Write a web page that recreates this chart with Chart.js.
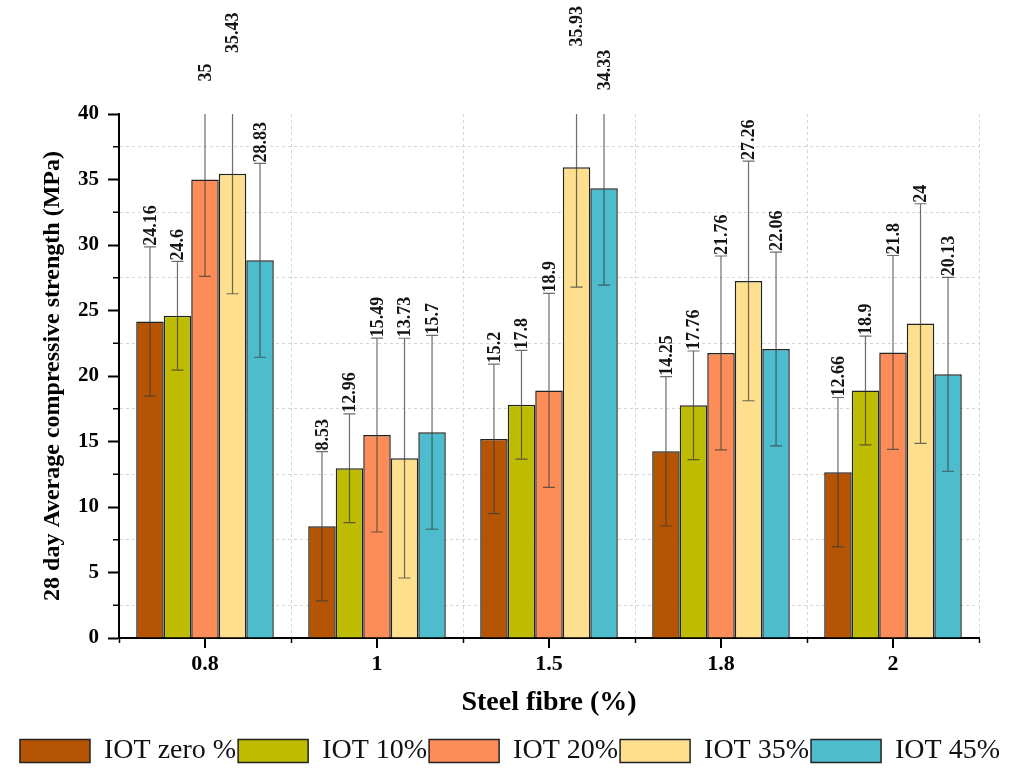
<!DOCTYPE html>
<html><head><meta charset="utf-8">
<script src="https://cdn.jsdelivr.net/npm/chart.js@4.4.1/dist/chart.umd.min.js"></script>
<style>html,body{margin:0;padding:0;background:#fff;} #wrap{width:1020px;height:768px;position:relative;}</style>
</head><body><div id="wrap"><canvas id="c"></canvas></div>
<script>
const categories = ['0.8', '1', '1.5', '1.8', '2'];
const seriesNames = ['IOT zero %', 'IOT 10%', 'IOT 20%', 'IOT 35%', 'IOT 45%'];
const iotZero = [24.16, 8.53, 15.2, 14.25, 12.66];
const iot10 = [24.6, 12.96, 17.8, 17.76, 18.9];
const iot20 = [35, 15.49, 18.9, 21.76, 21.8];
const iot35 = [35.43, 13.73, 35.93, 27.26, 24];
const iot45 = [28.83, 15.7, 34.33, 22.06, 20.13];
const errZero = [5.7, 5.7, 5.7, 5.7, 5.7];
const err10 = [4.15, 4.15, 4.15, 4.15, 4.15];
const err20 = [7.4, 7.4, 7.4, 7.4, 7.4];
const err35 = [9.15, 9.15, 9.15, 9.15, 9.15];
const err45 = [7.4, 7.4, 7.4, 7.4, 7.4];
const yMin = 0, yMax = 40, yStep = 2.5;
const seriesColors = ['#B55504', '#BDBC00', '#FC8D59', '#FDDF8E', '#4DBDCD'];

const values = [iotZero, iot10, iot20, iot35, iot45];
const errors = [errZero, err10, err20, err35, err45];

const SERIF = '"Liberation Serif", "Times New Roman", serif';

const extras = {
  id: 'extras',
  afterDatasetsDraw(chart) {
    const ctx = chart.ctx, ys = chart.scales.y, area = chart.chartArea;
    ctx.save();
    ctx.beginPath();
    ctx.rect(area.left, area.top, area.right - area.left, area.bottom - area.top);
    ctx.clip();
    ctx.strokeStyle = 'rgba(60,60,60,0.75)';
    ctx.lineWidth = 1.2;
    chart.data.datasets.forEach((ds, di) => {
      const meta = chart.getDatasetMeta(di);
      meta.data.forEach((bar, i) => {
        const v = values[di][i], e = errors[di][i];
        const x = bar.x;
        const yt = ys.getPixelForValue(v + e), yb = ys.getPixelForValue(v - e);
        ctx.beginPath();
        ctx.moveTo(x, yt); ctx.lineTo(x, yb);
        ctx.moveTo(x - 6, yt); ctx.lineTo(x + 6, yt);
        ctx.moveTo(x - 6, yb); ctx.lineTo(x + 6, yb);
        ctx.stroke();
      });
    });
    ctx.restore();
    ctx.save();
    ctx.font = 'bold 18px ' + SERIF;
    ctx.fillStyle = '#151515';
    ctx.textAlign = 'left';
    ctx.textBaseline = 'middle';
    chart.data.datasets.forEach((ds, di) => {
      const meta = chart.getDatasetMeta(di);
      meta.data.forEach((bar, i) => {
        const v = values[di][i], e = errors[di][i];
        const yt = ys.getPixelForValue(v + e);
        ctx.save();
        ctx.translate(bar.x + 1, yt - 1);
        ctx.rotate(-Math.PI / 2);
        ctx.fillText(String(v), 0, 0);
        ctx.restore();
      });
    });
    ctx.restore();
  },
  afterDraw(chart) {
    const ctx = chart.ctx, xs = chart.scales.x, ys = chart.scales.y;
    ctx.save();
    ctx.strokeStyle = '#000';
    ctx.lineWidth = 2;
    xs.ticks.forEach((t, i) => {
      const x = xs.getPixelForTick(i);
      ctx.beginPath(); ctx.moveTo(x, xs.top); ctx.lineTo(x, xs.top + 10); ctx.stroke();
    });
    ctx.lineWidth = 1.5;
    ys.ticks.forEach((t, i) => {
      if (i % 2 === 1) {
        const y = ys.getPixelForTick(i);
        ctx.beginPath(); ctx.moveTo(ys.right - 6, y); ctx.lineTo(ys.right, y); ctx.stroke();
      }
    });
    ctx.restore();
  }
};

new Chart(document.getElementById('c'), {
  type: 'bar',
  data: {
    labels: categories,
    datasets: values.map((arr, i) => ({
      label: seriesNames[i],
      data: arr,
      backgroundColor: seriesColors[i],
      borderColor: '#222',
      borderWidth: 1.5,
      barPercentage: 1,
      categoryPercentage: 0.8
    }))
  },
  options: {
    responsive: true,
    maintainAspectRatio: false,
    animation: false,
    layout: { padding: { top: 114, right: 0, left: 0, bottom: -7 } },
    plugins: {
      tooltip: { enabled: false },
      legend: {
        position: 'bottom',
        labels: {
          boxWidth: 70, boxHeight: 23, padding: 2,
          color: '#111',
          font: { family: SERIF, size: 28, weight: 'normal' }
        }
      }
    },
    scales: {
      x: {
        afterFit(s) { s.height = 97; },
        grid: {
          offset: true,
          drawOnChartArea: true,
          color: c => (c.index === 0 || c.index === categories.length) ? 'rgba(0,0,0,0)' : '#d6d6d6',
          lineWidth: 1,
          tickLength: 5,
          tickColor: '#000',
          tickWidth: 1.5
        },
        border: { display: true, color: '#000', width: 2, dash: [3, 3] },
        ticks: {
          color: '#000',
          padding: 8,
          font: { family: SERIF, size: 22, weight: 'bold' }
        },
        title: {
          display: true,
          text: 'Steel fibre (%)',
          color: '#000',
          padding: { top: 0, bottom: 15 },
          font: { family: SERIF, size: 28, weight: 'bold' }
        }
      },
      y: {
        min: yMin, max: yMax,
        afterFit(s) { s.width = 119; },
        grid: {
          color: c => (c.index % 2 === 1) ? '#d6d6d6' : 'rgba(0,0,0,0)',
          lineWidth: 1,
          tickLength: 11,
          tickColor: c => (c.index % 2 === 0) ? '#000' : 'rgba(0,0,0,0)',
          tickWidth: 2
        },
        border: { display: true, color: '#000', width: 2, dash: [3, 3] },
        ticks: {
          stepSize: yStep,
          autoSkip: false,
          color: '#000',
          padding: 9,
          font: { family: SERIF, size: 21, weight: 'bold' },
          callback: v => (v % 5 === 0 ? v : '')
        },
        title: {
          display: true,
          text: '28 day Average compressive strength (MPa)',
          color: '#000',
          padding: { top: 38, bottom: 0 },
          font: { family: SERIF, size: 24, weight: 'bold' }
        }
      },
      yR: {
        position: 'right',
        display: true,
        afterFit(s) { s.width = 41; },
        grid: { display: false, drawOnChartArea: false },
        border: { display: false },
        ticks: { display: false }
      }
    }
  },
  plugins: [extras]
});
</script>
</body></html>
